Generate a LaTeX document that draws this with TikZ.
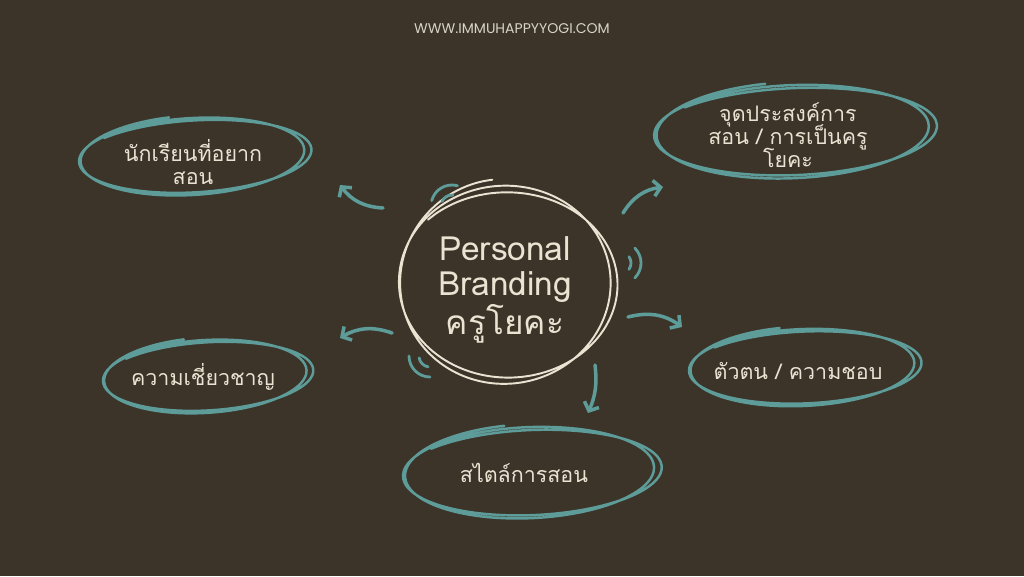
\documentclass[tikz,border=0pt]{standalone}
\usepackage{fontspec}
\usetikzlibrary{arrows.meta}
\newfontfamily\thaifont[Script=Thai]{Loma}
\newfontfamily\webfont{Poppins}
\newcommand{\topicfont}{\thaifont\fontsize{12.2}{13}\selectfont\lineskiplimit=-8pt\relax}
\definecolor{bgbrown}{HTML}{3C3429}
\definecolor{sketchteal}{HTML}{5E9C9A}
\definecolor{chalk}{HTML}{EAE3D2}
\definecolor{webgrey}{HTML}{D9D3C7}
% hand drawn double loop round a point
\newcommand{\scribble}[5]{%
  \begin{scope}[shift={(#1)},rotate=#4]
    \draw[#5] plot[smooth,samples=150,domain=0:760]
      ({(#2)*(0.95+0.08*\x/760)*cos(\x+100)+6*\x/760},{(#3)*(1.06-0.14*\x/760)*sin(\x+100)});
  \end{scope}}
% two small arcs pointing outwards
\newcommand{\waves}[2]{%
  \begin{scope}[shift={(#1)},rotate=#2]
    \draw[wave] (-35:11) arc[start angle=-35,end angle=35,radius=11];
    \draw[wave] (-45:21) arc[start angle=-45,end angle=45,radius=21];
  \end{scope}}

\begin{document}
\begin{tikzpicture}[line cap=round,line join=round,x=0.02cm,y=0.02cm,
    topic/.style={text=chalk,align=center,font=\topicfont},
    loop/.style={draw=sketchteal,line width=1.4pt},
    ring/.style={draw=chalk,line width=1.1pt},
    curvy/.style={draw=sketchteal,line width=2pt,-{Straight Barb[length=4pt,width=9pt]}},
    wave/.style={draw=sketchteal,line width=1.6pt}]
  \fill[bgbrown] (0,0) rectangle (1024,576);
  \useasboundingbox (0,0) rectangle (1024,576);

  \node[text=webgrey,font=\webfont\fontsize{8}{9}\selectfont] (web) at (512,547) {WWW.IMMUHAPPYYOGI.COM};

  % centre
  \node[text=chalk,align=center,font=\thaifont\fontsize{19}{20}\selectfont] (hub) at (505,286)
    {Personal\\Branding\\ครูโยคะ};
  \scribble{503,293}{108}{98}{-4}{ring}

  % topics
  \node[topic] (stud) at (193,414) {นักเรียนที่อยาก\\สอน};
  \node[topic] (goal) at (788,441) {จุดประสงค์การ\\สอน / การเป็นครู\\โยคะ};
  \node[topic] (expert) at (203,199) {ความเชี่ยวชาญ};
  \node[topic] (self) at (798,205) {ตัวตน / ความชอบ};
  \node[topic] (teach) at (524,103) {สไตล์การสอน};

  \scribble{190,420}{115}{38}{3}{loop}
  \scribble{790,445}{140}{46}{2}{loop}
  \scribble{203,200}{104}{36}{3}{loop}
  \scribble{800,209}{115}{38}{2}{loop}
  \scribble{527,104}{128}{45}{2}{loop}

  % arrows
  \coordinate (a1s) at (383,368);
  \coordinate (a1e) at (340,391);
  \coordinate (a2s) at (392,243);
  \coordinate (a2e) at (340,238);
  \coordinate (a3s) at (623,363);
  \coordinate (a3e) at (663,389);
  \coordinate (a4s) at (628,259);
  \coordinate (a4e) at (682,249);
  \coordinate (a5s) at (595,211);
  \coordinate (a5e) at (588,163);
  \draw[curvy] (a1s) to[bend left=25] (a1e);
  \draw[curvy] (a2s) to[bend right=25] (a2e);
  \draw[curvy] (a3s) to[bend left=25] (a3e);
  \draw[curvy] (a4s) to[bend left=25] (a4e);
  \draw[curvy] (a5s) to[bend left=15] (a5e);

  % accents
  \waves{452,370}{120}
  \waves{620,313}{0}
  \waves{430,220}{225}
\end{tikzpicture}
\end{document}
